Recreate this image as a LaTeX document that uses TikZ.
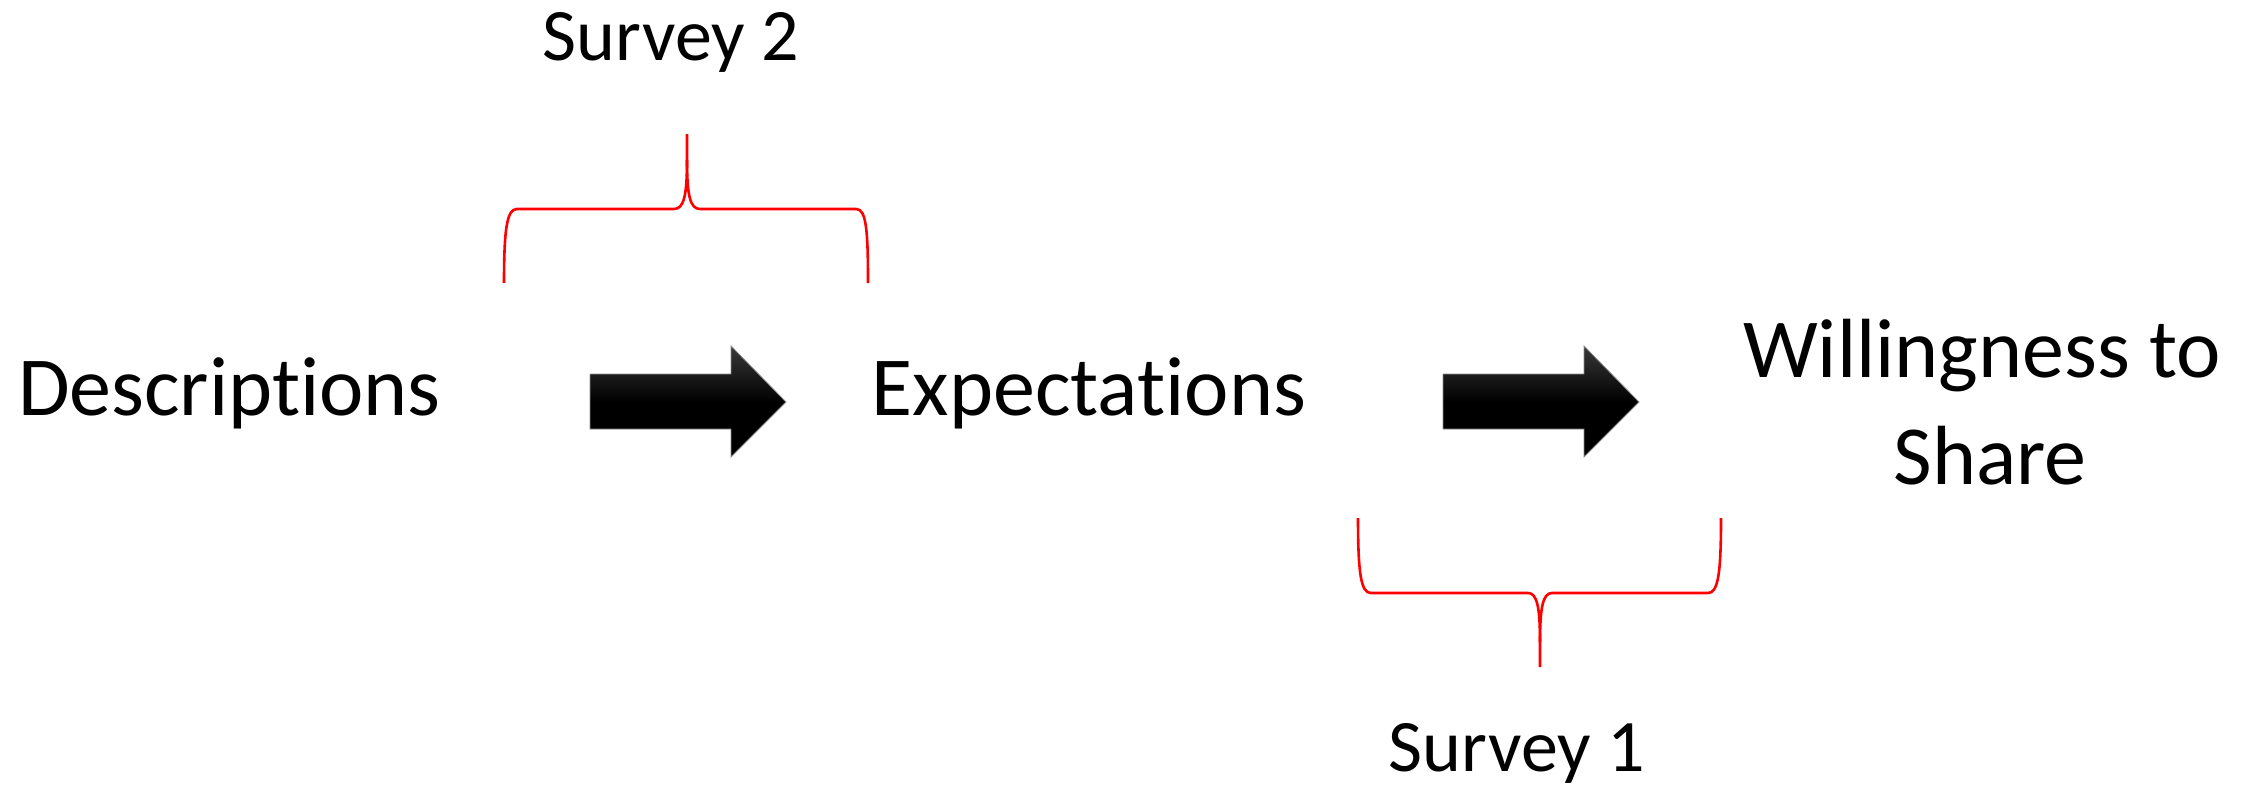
\documentclass[tikz,border=0pt]{standalone}
\usepackage{fontspec}
\setmainfont{Carlito}[Ligatures=NoCommon]
\begin{document}
\begin{tikzpicture}[x=1pt,y=-1pt,
  bigtext/.style={inner sep=0pt,anchor=base,font=\fontsize{84}{100}\selectfont},
  surveytext/.style={inner sep=0pt,anchor=base,font=\fontsize{74}{88}\selectfont},
  brace/.style={draw=red,line width=2.6pt,line cap=butt},
  blockarrow/.style={draw=black!45,line width=0.8pt,top color=black!78,bottom color=black,middle color=black}]
\useasboundingbox (0,0) rectangle (2256,787);
% text nodes
\node[bigtext] (desc) at (229.5,415) {Descriptions};
\node[bigtext] (expe) at (1089,415) {Expectations};
\node[bigtext] (will) at (1982,377) {Willingness to};
\node[bigtext] (share) at (1990,484) {Share};
\node[surveytext] (s2) at (671,60) {Survey 2};
\node[surveytext] (s1) at (1517,771) {Survey 1};
% block arrows
\path[blockarrow] (590,374) -- (731,374) -- (731,346) -- (786,402) -- (731,457) -- (731,429) -- (590,429) -- cycle;
\path[blockarrow] (1443,374) -- (1584,374) -- (1584,346) -- (1639,402) -- (1584,457) -- (1584,429) -- (1443,429) -- cycle;
% top brace (Survey 2)
\draw[brace] (504,283) .. controls (504,228) and (507,209) .. (517,209) -- (674,209)
  .. controls (684,209) and (687,195) .. (687,160) -- (687,134);
\draw[brace] (687,160) .. controls (687,195) and (690,209) .. (700,209) -- (856,209)
  .. controls (866,209) and (868,228) .. (868,283);
% bottom brace (Survey 1)
\draw[brace] (1358,518) .. controls (1358,574) and (1361,593) .. (1371,593) -- (1528,593)
  .. controls (1537,593) and (1540,607) .. (1540,642) -- (1540,667);
\draw[brace] (1540,642) .. controls (1540,607) and (1543,593) .. (1552,593) -- (1708,593)
  .. controls (1718,593) and (1721,574) .. (1721,518);
\end{tikzpicture}
\end{document}
